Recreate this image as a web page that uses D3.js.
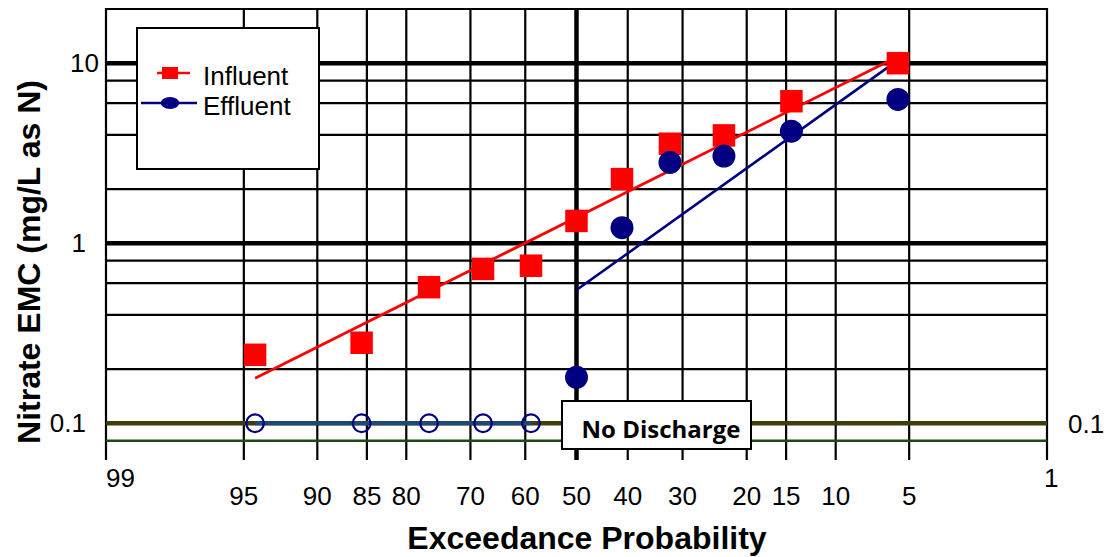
<!DOCTYPE html>
<html lang="en">
<head>
<meta charset="utf-8"/>
<title>Nitrate EMC probability plot</title>
<script src="https://d3js.org/d3.v7.min.js"></script>
<style>
  html, body { margin: 0; padding: 0; background: #fff; }
  svg { display: block; font-family: "Liberation Sans", Arial, sans-serif; }
</style>
</head>
<body>
<div id="chart"></div>
<script>
  // exceedance probability (%) and nitrate EMC (mg/L as N)
  const influentP = [94.4, 85.6, 76.7, 67.8, 58.9, 50, 41.1, 32.2, 23.3, 14.4, 5.6];
  const influent = [0.24, 0.28, 0.57, 0.72, 0.75, 1.33, 2.27, 3.57, 3.97, 6.15, 10.0];
  const effluentP = [50, 41.1, 32.2, 23.3, 14.4, 5.6];
  const effluent = [0.18, 1.22, 2.81, 3.05, 4.19, 6.29];
  const nonDetectP = [94.4, 85.6, 76.7, 67.8, 58.9];
  const detectionLimit = 0.1;
  const influentFit = [[94.4, 0.178], [5.6, 10.9]];
  const effluentFit = [[50, 0.55], [5.6, 10.4]];

  const xTicks = [99, 95, 90, 85, 80, 70, 60, 50, 40, 30, 20, 15, 10, 5, 1];
  const yGrid = [0.2, 0.4, 0.6, 0.8, 1, 2, 4, 6, 8, 10, 20];
  const yLabels = [0.1, 1, 10];
  const yMin = 0.0625, yMax = 20;

  const width = 1109, height = 557;
  const plotL = 106, plotR = 1047, plotT = 9, plotB = 460;

  // inverse normal CDF (Acklam)
  function probit(p) {
    const a = [-39.69683028665376, 220.9460984245205, -275.9285104469687, 138.3577518672690, -30.66479806614716, 2.506628277459239];
    const b = [-54.47609879822406, 161.5858368580409, -155.6989798598866, 66.80131188771972, -13.28068155288572];
    const c = [-0.007784894002430293, -0.3223964580411365, -2.400758277161838, -2.549732539343734, 4.374664141464968, 2.938163982698783];
    const d = [0.007784695709041462, 0.3224671290700398, 2.445134137142996, 3.754408661907416];
    const pl = 0.02425;
    let q, r;
    if (p < pl) {
      q = Math.sqrt(-2 * Math.log(p));
      return (((((c[0]*q+c[1])*q+c[2])*q+c[3])*q+c[4])*q+c[5]) / ((((d[0]*q+d[1])*q+d[2])*q+d[3])*q+1);
    }
    if (p <= 1 - pl) {
      q = p - 0.5; r = q * q;
      return (((((a[0]*r+a[1])*r+a[2])*r+a[3])*r+a[4])*r+a[5])*q / (((((b[0]*r+b[1])*r+b[2])*r+b[3])*r+b[4])*r+1);
    }
    q = Math.sqrt(-2 * Math.log(1 - p));
    return -(((((c[0]*q+c[1])*q+c[2])*q+c[3])*q+c[4])*q+c[5]) / ((((d[0]*q+d[1])*q+d[2])*q+d[3])*q+1);
  }

  const xz = d3.scaleLinear().domain([probit(0.99), probit(0.01)]).range([plotL, plotR]);
  const x = p => xz(probit(p / 100));
  const y = d3.scaleLog().domain([yMin, yMax]).range([plotB, plotT]);

  const svg = d3.select("#chart").append("svg")
      .attr("width", width)
      .attr("height", height);

  // horizontal grid
  svg.append("g")
    .selectAll("line")
    .data(yGrid)
    .join("line")
      .attr("x1", plotL).attr("x2", plotR)
      .attr("y1", d => y(d)).attr("y2", d => y(d))
      .attr("stroke", "#000")
      .attr("stroke-width", d => (d === 1 || d === 10) ? 4.5 : 2.2);

  // vertical grid
  svg.append("g")
    .selectAll("line")
    .data(xTicks)
    .join("line")
      .attr("x1", d => x(d)).attr("x2", d => x(d))
      .attr("y1", plotT - 1).attr("y2", plotB)
      .attr("stroke", "#000")
      .attr("stroke-width", d => d === 50 ? 4.5 : 2.2);

  // detection limit lines
  svg.append("line")
      .attr("x1", plotL).attr("x2", plotR)
      .attr("y1", y(0.08)).attr("y2", y(0.08))
      .attr("stroke", "#1d4a14").attr("stroke-width", 2.6);
  svg.append("line")
      .attr("x1", plotL).attr("x2", plotR)
      .attr("y1", y(detectionLimit)).attr("y2", y(detectionLimit))
      .attr("stroke", "#403c0c").attr("stroke-width", 4.5);

  // y tick labels
  svg.append("g")
    .selectAll("text")
    .data(yLabels)
    .join("text")
      .attr("x", d => d >= 10 ? 99 : 86)
      .attr("y", d => y(d) + 9)
      .attr("text-anchor", "end")
      .attr("font-size", 26)
      .text(d => d);
  svg.append("text")
      .attr("x", 1068).attr("y", y(detectionLimit) + 10)
      .attr("font-size", 26)
      .text(detectionLimit);

  // x tick labels
  svg.append("g")
    .selectAll("text")
    .data(xTicks)
    .join("text")
      .attr("x", d => x(d) - (d === 1 ? 3 : 0))
      .attr("y", d => (d === 99 || d === 1) ? 487 : 505)
      .attr("text-anchor", d => (d === 99 || d === 1) ? "start" : "middle")
      .attr("font-size", 26)
      .text(d => d);

  // axis titles
  svg.append("text")
      .attr("x", 587).attr("y", 549)
      .attr("text-anchor", "middle")
      .attr("font-size", 32).attr("font-weight", "bold")
      .text("Exceedance Probability");
  svg.append("text")
      .attr("transform", "translate(40,262) rotate(-90)")
      .attr("text-anchor", "middle")
      .attr("font-size", 32).attr("font-weight", "bold")
      .text("Nitrate EMC (mg/L as N)");

  // non-detects connector
  svg.append("line")
      .attr("x1", x(d3.max(nonDetectP))).attr("x2", x(d3.min(nonDetectP)))
      .attr("y1", y(detectionLimit)).attr("y2", y(detectionLimit))
      .attr("stroke", "#1b4a7a").attr("stroke-width", 4);

  // "No Discharge" box
  const nd = svg.append("g");
  nd.append("rect")
      .attr("x", 562).attr("y", 401)
      .attr("width", 189).attr("height", 48)
      .attr("fill", "#fff").attr("stroke", "#000").attr("stroke-width", 2);
  nd.append("text")
      .attr("x", 661).attr("y", 438)
      .attr("text-anchor", "middle")
      .attr("font-family", "'Open Sans', sans-serif")
      .attr("font-size", 24).attr("font-weight", "bold")
      .text("No Discharge");

  // fitted lines
  const line = d3.line().x(d => x(d[0])).y(d => y(d[1]));
  svg.append("path")
      .attr("d", line(influentFit))
      .attr("fill", "none").attr("stroke", "#ff0000").attr("stroke-width", 2.8);
  svg.append("path")
      .attr("d", line(effluentFit))
      .attr("fill", "none").attr("stroke", "#000080").attr("stroke-width", 2.6);

  // markers
  const sq = 22.5;
  svg.append("g")
    .selectAll("rect")
    .data(d3.zip(influentP, influent))
    .join("rect")
      .attr("x", d => x(d[0]) - sq / 2)
      .attr("y", d => y(d[1]) - sq / 2)
      .attr("width", sq).attr("height", sq)
      .attr("fill", "#ff0000");

  svg.append("g")
    .selectAll("circle")
    .data(d3.zip(effluentP, effluent))
    .join("circle")
      .attr("cx", d => x(d[0]))
      .attr("cy", d => y(d[1]))
      .attr("r", 11.5)
      .attr("fill", "#000080");

  svg.append("g")
    .selectAll("circle")
    .data(nonDetectP)
    .join("circle")
      .attr("cx", d => x(d))
      .attr("cy", y(detectionLimit))
      .attr("r", 8.8)
      .attr("fill", "none")
      .attr("stroke", "#000080")
      .attr("stroke-width", 2.2);

  // legend
  const lg = svg.append("g");
  lg.append("rect")
      .attr("x", 137).attr("y", 28)
      .attr("width", 182).attr("height", 141)
      .attr("fill", "#fff").attr("stroke", "#000").attr("stroke-width", 2);
  const items = [
    {name: "Influent", color: "#ff0000", shape: "rect", x1: 157, x2: 190},
    {name: "Effluent", color: "#000080", shape: "ellipse", x1: 141, x2: 197}
  ];
  items.forEach((it, i) => {
    const cy = 73 + i * 30;
    lg.append("line")
        .attr("x1", it.x1).attr("x2", it.x2)
        .attr("y1", cy).attr("y2", cy)
        .attr("stroke", it.color).attr("stroke-width", 2.4);
    if (it.shape === "rect") {
      lg.append("rect")
          .attr("x", 162).attr("y", cy - 6)
          .attr("width", 16).attr("height", 12)
          .attr("fill", it.color);
    } else {
      lg.append("ellipse")
          .attr("cx", 170).attr("cy", cy)
          .attr("rx", 9.3).attr("ry", 6)
          .attr("fill", it.color);
    }
    lg.append("text")
        .attr("x", 203).attr("y", cy + 12)
        .attr("font-size", 26)
        .text(it.name);
  });
</script>
</body>
</html>
